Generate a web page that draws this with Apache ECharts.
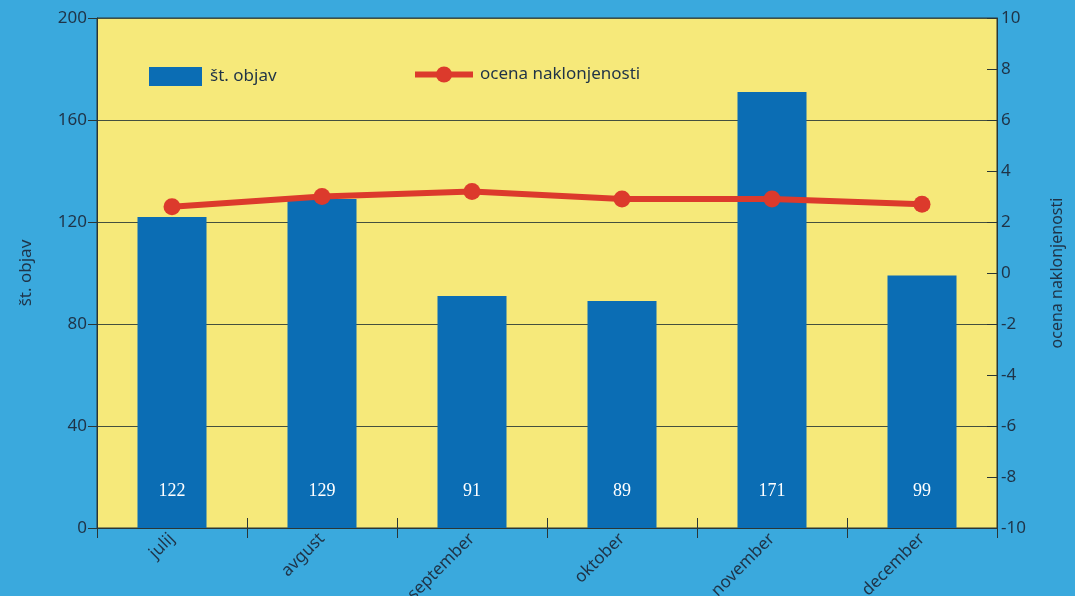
<!DOCTYPE html>
<html>
<head>
<meta charset="utf-8">
<script src="https://cdn.jsdelivr.net/npm/echarts@6/dist/echarts.min.js"></script>
<style>
  html, body { margin: 0; padding: 0; background: #3aa9dd; }
  #chart { width: 1075px; height: 596px; }
</style>
</head>
<body>
<div id="chart"></div>
<script>
// Months (July–December)
const months = ['julij', 'avgust', 'september', 'oktober', 'november', 'december'];
// Number of publications per month
const objave = [122, 129, 91, 89, 171, 99];
// Average sentiment score per month
const naklonjenost = [2.6, 3.0, 3.2, 2.9, 2.9, 2.7];

const leftTicks = [0, 40, 80, 120, 160, 200];
const rightTicks = [-10, -8, -6, -4, -2, 0, 2, 4, 6, 8, 10];

const dark = '#1f3347';
const font = 'Noto Sans';

const chart = echarts.init(document.getElementById('chart'));
chart.setOption({
  backgroundColor: '#3aa9dd',
  animation: false,
  grid: {
    left: 97, right: 78, top: 18, bottom: 68,
    outerBoundsMode: 'none', containLabel: false,
    show: true, backgroundColor: '#f6e97a',
    borderColor: '#2a3636', borderWidth: 1
  },
  legend: [
    {
      data: [{ name: 'št. objav', icon: 'rect' }], left: 144, top: 62,
      itemWidth: 53, itemHeight: 19,
      textStyle: { color: dark, fontFamily: font, fontSize: 17, padding: [0, 0, 0, 3] }
    },
    {
      data: ['ocena naklonjenosti'], left: 407, top: 61,
      itemWidth: 58, itemHeight: 20,
      lineStyle: { width: 6 },
      textStyle: { color: dark, fontFamily: font, fontSize: 17, padding: [0, 0, 0, 2] }
    }
  ],
  xAxis: [
    {
      type: 'category', data: months,
      axisLine: { onZero: false, lineStyle: { color: '#2a3636', width: 1 } },
      axisTick: { show: true, length: 10, lineStyle: { color: '#2a3636' } },
      axisLabel: { rotate: 45, margin: 8, color: dark, fontFamily: font, fontSize: 17 }
    },
    {
      type: 'category', data: months, position: 'bottom',
      axisLine: { show: false, onZero: false },
      axisTick: { show: true, inside: true, length: 10, lineStyle: { color: '#2a3636' } },
      axisLabel: { show: false }
    }
  ],
  yAxis: [
    {
      type: 'value', min: leftTicks[0], max: leftTicks[leftTicks.length - 1], interval: 40,
      name: 'št. objav', nameLocation: 'middle', nameGap: 62, nameRotate: 90,
      nameTextStyle: { color: dark, fontFamily: font, fontSize: 17 },
      axisLine: { show: true, lineStyle: { color: '#2a3636' } },
      axisTick: { show: true, length: 9, lineStyle: { color: '#2a3636' } },
      axisLabel: { color: dark, fontFamily: font, fontSize: 17, margin: 10 },
      splitLine: { show: true, lineStyle: { color: '#44503f', width: 1 } }
    },
    {
      type: 'value', min: rightTicks[0], max: rightTicks[rightTicks.length - 1], interval: 2,
      position: 'right',
      name: 'ocena naklonjenosti', nameLocation: 'middle', nameGap: 52, nameRotate: 90,
      nameTextStyle: { color: dark, fontFamily: font, fontSize: 16 },
      axisLine: { show: true, lineStyle: { color: '#2a3636' } },
      axisTick: { show: true, inside: true, length: 10, lineStyle: { color: '#2a3636' } },
      axisLabel: { color: dark, fontFamily: font, fontSize: 17, margin: 4 },
      splitLine: { show: false }
    }
  ],
  series: [
    {
      name: 'št. objav', type: 'bar', data: objave, barWidth: '46%',
      itemStyle: { color: '#0b6db4' },
      label: {
        show: true, position: 'insideBottom', distance: 28,
        color: '#ffffff', fontFamily: 'Liberation Serif', fontSize: 18
      }
    },
    {
      name: 'ocena naklonjenosti', type: 'line', yAxisIndex: 1, data: naklonjenost,
      symbol: 'circle', symbolSize: 17,
      lineStyle: { color: '#dc3a2c', width: 6 },
      itemStyle: { color: '#dc3a2c' }
    }
  ]
});
</script>
</body>
</html>
